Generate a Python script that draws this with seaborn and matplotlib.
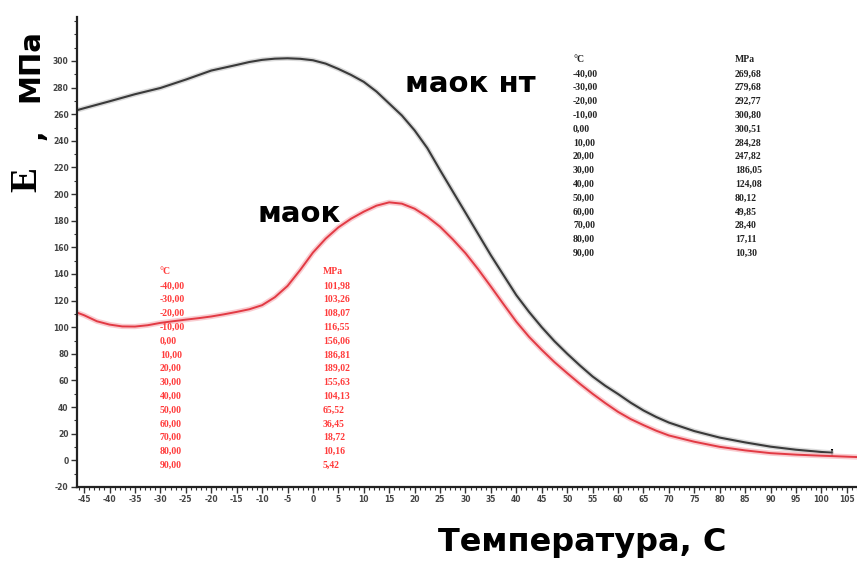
import matplotlib
matplotlib.use("Agg")
import matplotlib.pyplot as plt
from matplotlib.ticker import MultipleLocator
import seaborn as sns

# Temperature (°C) and elastic modulus E (MPa) for the two materials
temp_nt = [-46.4, -45, -40, -35, -30, -25, -20, -15, -12.5, -10, -7.5, -5, -2.5, 0,
           2.5, 5, 7.5, 10, 12.5, 15, 17.5, 20, 22.5, 25, 27.5, 30, 32.5, 35, 37.5,
           40, 42.5, 45, 47.5, 50, 52.5, 55, 57.5, 60, 62.5, 65, 67.5, 70, 75, 80,
           85, 90, 95, 100, 102]
modulus_nt = [263, 264.5, 269.68, 275, 279.68, 286, 292.77, 297, 299.2, 300.80,
              301.7, 302, 301.6, 300.51, 298, 294, 289.5, 284.28, 277, 268, 259,
              247.82, 234.5, 218, 202, 186.05, 170, 154, 139, 124.08, 111.5, 100,
              89.5, 80.12, 71.3, 63, 56, 49.85, 43.3, 37.5, 32.6, 28.40, 22, 17.11,
              13.5, 10.30, 8, 6.3, 5.8]

temp_m = [-46.4, -45, -42.5, -40, -37.5, -35, -32.5, -30, -27.5, -25, -22.5, -20,
          -17.5, -15, -12.5, -10, -7.5, -5, -2.5, 0, 2.5, 5, 7.5, 10, 12.5, 15, 17.5,
          20, 22.5, 25, 27.5, 30, 32.5, 35, 37.5, 40, 42.5, 45, 47.5, 50, 52.5, 55,
          57.5, 60, 62.5, 65, 67.5, 70, 75, 80, 85, 90, 95, 100, 107]
modulus_m = [111, 109, 104.5, 101.98, 100.6, 100.5, 101.5, 103.26, 104.5, 105.7,
             106.8, 108.07, 109.7, 111.5, 113.5, 116.55, 122.5, 131, 143, 156.06,
             166.5, 175, 181.5, 186.81, 191.3, 193.8, 192.8, 189.02, 183, 175.5, 166,
             155.63, 143.5, 130.5, 117.2, 104.13, 92.8, 83, 73.8, 65.52, 57.5, 50, 43,
             36.45, 31, 26.5, 22.3, 18.72, 14, 10.16, 7.5, 5.42, 4.3, 3.5, 2.5]

table_temps = [-40, -30, -20, -10, 0, 10, 20, 30, 40, 50, 60, 70, 80, 90]

label_nt = "маок нт"
label_m = "маок"
x_title = "Температура, С"

sns.set_style("ticks")
plt.rcParams["font.family"] = ["DejaVu Sans"]
plt.rcParams["axes.unicode_minus"] = False
plt.rcParams["text.color"] = "black"

fig = plt.figure(figsize=(8.57, 5.69), dpi=100)
W, H = 857, 569
ax = fig.add_axes([77 / W, 1 - 487 / H, 1 - 77 / W, (487 - 17) / H])

black = "#3a3a3a"
red = "#e23a44"

# soft halo under each curve, then the curve itself
sns.lineplot(x=temp_nt, y=modulus_nt, ax=ax, color="#c4c4c4", lw=3.6, alpha=0.6)
sns.lineplot(x=temp_nt, y=modulus_nt, ax=ax, color=black, lw=1.5)
sns.lineplot(x=temp_m, y=modulus_m, ax=ax, color="#f7b7bd", lw=3.8, alpha=0.7)
sns.lineplot(x=temp_m, y=modulus_m, ax=ax, color=red, lw=1.4)
sns.scatterplot(x=temp_nt[-1:], y=modulus_nt[-1:], ax=ax, marker="|", s=40,
                color="black", linewidth=1.5)

ax.set_xlabel("")
ax.set_ylabel("")

ax.xaxis.set_major_locator(MultipleLocator(5))
ax.xaxis.set_minor_locator(MultipleLocator(1))
ax.yaxis.set_major_locator(MultipleLocator(20))
ax.yaxis.set_minor_locator(MultipleLocator(10))
ax.set_xticks(list(range(-45, 110, 5)))
ax.set_yticks(list(range(-20, 320, 20)))
ax.tick_params(axis="both", which="major", length=4, width=1.0, color="#333333",
               labelsize=5.5, labelcolor="#444444", pad=2)
ax.tick_params(axis="both", which="minor", length=2.5, width=0.8, color="#333333")
for lbl in ax.get_xticklabels() + ax.get_yticklabels():
    lbl.set_fontweight("bold")
ax.set_xlim(-46.4, 107)
ax.set_ylim(-20, 333)

for s in ("top", "right"):
    ax.spines[s].set_visible(False)
for s in ("left", "bottom"):
    ax.spines[s].set_linewidth(1.6)
    ax.spines[s].set_color("#222222")

# curve captions
fig.text(405 / W, 1 - 84 / H, label_nt, fontsize=21, fontweight="bold",
         color="black", ha="left", va="center")
fig.text(258 / W, 1 - 214 / H, label_m, fontsize=21, fontweight="bold",
         color="black", ha="left", va="center")

# axis titles
fig.text(582 / W, 1 - 543 / H, x_title, fontsize=23, fontweight="bold",
         color="black", ha="center", va="center")
fig.text(27 / W, 1 - 180 / H, "E", fontsize=27, family="Liberation Serif",
         fontweight="bold", color="black", rotation=90, ha="center", va="center")
fig.text(34 / W, 1 - 135 / H, ",", fontsize=20, fontweight="bold", color="black",
         rotation=90, ha="center", va="center")
fig.text(30 / W, 1 - 66 / H, "МПа", fontsize=21, fontweight="bold", color="black",
         rotation=90, ha="center", va="center")


def fmt(v):
    return f"{v:.2f}".replace(".", ",")


def value_at(temps, values, t):
    return values[temps.index(t)]


def draw_table(x_t, x_v, y0, temps, values, color):
    step = 13.8
    kw = dict(fontsize=7, family="Liberation Serif", fontweight="bold",
              color=color, ha="left", va="center")
    fig.text(x_t / W, 1 - y0 / H, "°C", **kw)
    fig.text(x_v / W, 1 - y0 / H, "MPa", **kw)
    for i, t in enumerate(table_temps):
        y = y0 + step * (i + 1)
        fig.text(x_t / W, 1 - y / H, fmt(t), **kw)
        fig.text(x_v / W, 1 - y / H, fmt(value_at(temps, values, t)), **kw)


draw_table(573, 735, 60, temp_nt, modulus_nt, "#222222")
draw_table(160, 323, 272, temp_m, modulus_m, "#ff3b3b")

fig.savefig("out.png", dpi=100)
